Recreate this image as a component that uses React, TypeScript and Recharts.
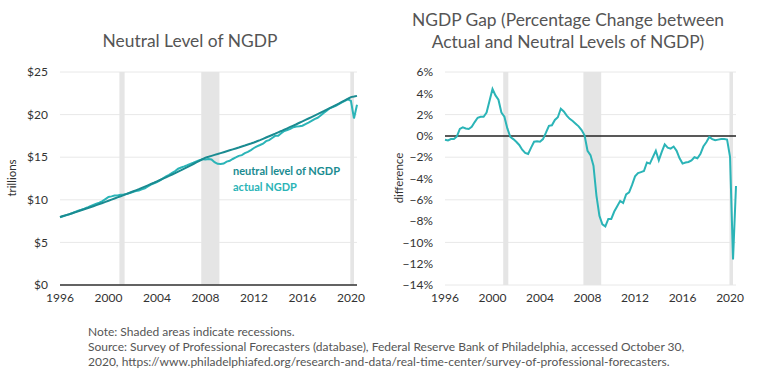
import React from 'react';
import { LineChart, Line, XAxis, YAxis, CartesianGrid, ReferenceArea, ReferenceLine } from 'recharts';

// quarterly, 1996Q1 .. 2020Q3 (trillions of dollars)
const neutralLevel = [
  7.98, 8.09, 8.2, 8.31, 8.42, 8.53, 8.65, 8.77, 8.89, 9.01, 9.13, 9.25, 9.37, 9.5, 9.63, 9.76,
  9.89, 10.02, 10.15, 10.28, 10.41, 10.55, 10.69, 10.83, 10.97, 11.11, 11.25, 11.4, 11.55, 11.7, 11.85, 12.0,
  12.16, 12.32, 12.48, 12.64, 12.8, 12.97, 13.14, 13.31, 13.48, 13.66, 13.84, 14.02, 14.2, 14.38, 14.57, 14.76,
  14.95, 15.05, 15.16, 15.27, 15.37, 15.48, 15.59, 15.7, 15.81, 15.92, 16.03, 16.14, 16.26, 16.37, 16.49, 16.6,
  16.72, 16.87, 17.01, 17.16, 17.31, 17.46, 17.61, 17.76, 17.92, 18.07, 18.23, 18.39, 18.55, 18.71, 18.87, 19.04,
  19.2, 19.37, 19.54, 19.71, 19.88, 20.05, 20.23, 20.4, 20.58, 20.76, 20.94, 21.12, 21.3, 21.49, 21.68, 21.86,
  22.05, 22.12, 22.2,
];

const actualNgdp = [
  7.95, 8.06, 8.18, 8.29, 8.42, 8.59, 8.72, 8.83, 8.95, 9.09, 9.25, 9.41, 9.54, 9.67, 9.84, 10.08,
  10.33, 10.4, 10.5, 10.51, 10.6, 10.62, 10.68, 10.8, 10.91, 11.02, 11.1, 11.22, 11.35, 11.57, 11.78, 11.94,
  12.09, 12.28, 12.52, 12.76, 12.93, 13.16, 13.37, 13.65, 13.79, 13.92, 14.06, 14.22, 14.36, 14.51, 14.65, 14.77,
  14.74, 14.78, 14.74, 14.41, 14.22, 14.2, 14.26, 14.48, 14.58, 14.79, 14.97, 15.16, 15.24, 15.47, 15.62, 15.84,
  16.08, 16.28, 16.43, 16.59, 16.88, 17.01, 17.26, 17.51, 17.51, 17.8, 18.08, 18.19, 18.33, 18.52, 18.61, 18.64,
  18.7, 18.89, 19.06, 19.26, 19.48, 19.63, 19.89, 20.2, 20.46, 20.74, 20.88, 21.04, 21.23, 21.43, 21.62, 21.78,
  21.61, 19.55, 21.16,
];

// percent difference between actual and neutral
const ngdpGap = [
  -0.37, -0.43, -0.3, -0.3, -0.05, 0.65, 0.8, 0.7, 0.65, 0.85, 1.3, 1.7, 1.8, 1.8, 2.2, 3.3,
  4.4, 3.8, 3.4, 2.2, 1.8, 0.7, -0.1, -0.3, -0.55, -0.85, -1.3, -1.6, -1.7, -1.1, -0.55, -0.5,
  -0.55, -0.3, 0.3, 0.95, 1.0, 1.5, 1.75, 2.55, 2.3, 1.9, 1.6, 1.4, 1.15, 0.9, 0.55, 0.05,
  -1.4, -1.8, -2.8, -5.6, -7.5, -8.3, -8.5, -7.8, -7.8, -7.1, -6.6, -6.1, -6.3, -5.5, -5.3, -4.6,
  -3.8, -3.5, -3.4, -3.3, -2.5, -2.6, -2.0, -1.4, -2.3, -1.5, -0.8, -1.1, -1.2, -1.0, -1.4, -2.1,
  -2.6, -2.5, -2.45, -2.3, -2.0, -2.1, -1.7, -1.0, -0.6, -0.1, -0.3, -0.4, -0.35, -0.3, -0.3, -0.35,
  -2.0, -11.6, -4.7,
];

const recessions = [
  [2000.9, 2001.33],
  [2007.65, 2009.15],
  [2019.95, 2020.25],
];

const yearTicks = [1996, 2000, 2004, 2008, 2012, 2016, 2020];
const levelTicks = [0, 5, 10, 15, 20, 25];
const gapTicks = [-14, -12, -10, -8, -6, -4, -2, 0, 2, 4, 6];

const startYear = 1996;
const data = ngdpGap.map((gap, i) => ({
  date: startYear + i / 4,
  neutral: neutralLevel[i],
  actual: actualNgdp[i],
  gap,
}));

const FONT = 'Lato, "Open Sans", sans-serif';
const darkTeal = '#1a8b91';
const lightTeal = '#2bb4b7';
const tickStyle = { fill: '#333', fontSize: 12, fontFamily: FONT };

const shading = () =>
  recessions.map(([a, b]) => (
    <ReferenceArea key={a} x1={a} x2={b} fill="#e5e5e5" fillOpacity={1} strokeOpacity={0} />
  ));

export default function App() {
  return (
    <div style={{ position: 'absolute', left: 0, top: 0, width: 768, height: 379, background: '#fff', fontFamily: FONT }}>
      <div style={{ position: 'absolute', left: 40, top: 29, width: 300, textAlign: 'center', fontSize: 17.4, lineHeight: '24px', color: '#555' }}>
        Neutral Level of NGDP
      </div>
      <div style={{ position: 'absolute', left: 368, top: 9, width: 400, textAlign: 'center', fontSize: 17.4, lineHeight: '21.5px', color: '#555', whiteSpace: 'nowrap' }}>
        NGDP Gap (Percentage Change between
        <br />
        Actual and Neutral Levels of NGDP)
      </div>

      <div style={{ position: 'absolute', left: 0, top: 0 }}>
        <LineChart width={380} height={310} data={data} margin={{ top: 72, right: 23, bottom: 0, left: 0 }}>
          <CartesianGrid vertical={false} stroke="#e8e8e8" />
          {shading()}
          <XAxis
            dataKey="date"
            type="number"
            domain={[1996, 2020.5]}
            ticks={yearTicks}
            interval={0}
            tickLine={false}
            axisLine={{ stroke: '#333', strokeWidth: 1.5 }}
            tick={tickStyle}
            height={25}
          />
          <YAxis
            domain={[0, 25]}
            ticks={levelTicks}
            tickFormatter={(v) => `$${v}`}
            tickLine={false}
            axisLine={false}
            tickMargin={6}
            tick={tickStyle}
            width={60}
          />
          <Line dataKey="actual" stroke={lightTeal} strokeWidth={2} dot={false} isAnimationActive={false} />
          <Line dataKey="neutral" stroke={darkTeal} strokeWidth={2} dot={false} isAnimationActive={false} />
        </LineChart>
      </div>

      <div style={{ position: 'absolute', left: 380, top: 0 }}>
        <LineChart width={388} height={310} data={data} margin={{ top: 72, right: 32, bottom: 0, left: 0 }}>
          <CartesianGrid vertical={false} stroke="#e8e8e8" />
          {shading()}
          <XAxis
            dataKey="date"
            type="number"
            domain={[1996, 2020.5]}
            ticks={yearTicks}
            interval={0}
            tickLine={false}
            axisLine={false}
            tick={tickStyle}
            height={25}
          />
          <YAxis
            domain={[-14, 6]}
            ticks={gapTicks}
            tickFormatter={(v) => `${v < 0 ? '\u2212' : ''}${Math.abs(v)}%`}
            tickLine={false}
            axisLine={false}
            tickMargin={6}
            tick={tickStyle}
            width={65}
          />
          <ReferenceLine y={0} stroke="#222" strokeWidth={1.5} />
          <Line dataKey="gap" stroke={lightTeal} strokeWidth={2} dot={false} isAnimationActive={false} />
        </LineChart>
      </div>

      <svg width={768} height={379} style={{ position: 'absolute', left: 0, top: 0, pointerEvents: 'none' }}>
        <text x={11} y={178} transform="rotate(-90 11 178)" textAnchor="middle" dominantBaseline="central" fontSize={11.5} fill="#333" fontFamily={FONT}>
          trillions
        </text>
        <text x={398} y={178} transform="rotate(-90 398 178)" textAnchor="middle" dominantBaseline="central" fontSize={11.5} fill="#333" fontFamily={FONT}>
          difference
        </text>
        <text x={233} y={170} dominantBaseline="central" fontSize={11} fontWeight={700} fill={darkTeal} fontFamily={FONT}>
          neutral level of NGDP
        </text>
        <text x={233} y={186} dominantBaseline="central" fontSize={11} fontWeight={700} fill={lightTeal} fontFamily={FONT}>
          actual NGDP
        </text>
      </svg>

      <div style={{ position: 'absolute', left: 88, top: 324, fontSize: 12, lineHeight: '15px', color: '#555', whiteSpace: 'nowrap' }}>
        Note: Shaded areas indicate recessions.
        <br />
        Source: Survey of Professional Forecasters (database), Federal Reserve Bank of Philadelphia, accessed October 30,
        <br />
        2020, https://www.philadelphiafed.org/research-and-data/real-time-center/survey-of-professional-forecasters.
      </div>
    </div>
  );
}
